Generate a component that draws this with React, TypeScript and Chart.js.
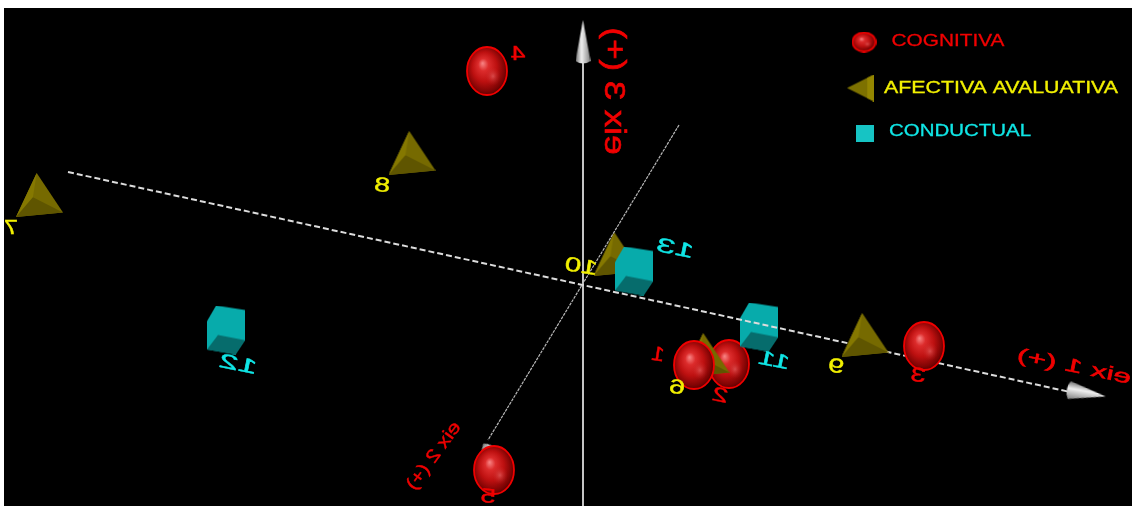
import React, { useEffect, useRef } from "react";
import { Chart, registerables } from "chart.js";

Chart.register(...registerables);

const xAxisX = [-515, 487];
const xAxisY = [113, -107];
const yAxisX = [0, 0];
const yAxisY = [230, -221];
const zAxisX = [96, -95];
const zAxisY = [160, -155];

const cognitivaBackX = [146];
const cognitivaBackY = [-79];
const cognitivaX = [-96, 111, 341, -89];
const cognitivaY = [214, -80, -61, -185];

const afectivaBackX = [34];
const afectivaBackY = [31];
const afectivaX = [-543.5, -171, 123, 282];
const afectivaY = [90, 132, -70, -50];

const conductualX = [-357, 51, 176];
const conductualY = [-45, 14, -42];

const pointLabels = ["4", "8", "7", "10", "13", "12", "11", "1", "6", "2", "9", "3", "5"];
const pointLabelX = [-65, -201, -572, -2, 92, -345, 191, 75, 94, 137, 253, 335, -95];
const pointLabelY = [231, 99, 57, 18, 36, -80, -76, -70, -103, -111, -82, -91, -212];

const legendNames = ["COGNITIVA", "AFECTIVA AVALUATIVA", "CONDUCTUAL"];
const axisNames = ["eix 1 (+)", "eix 2 (+)", "eix 3 (+)"];

const RED = "#f00000";
const YELLOW = "#f2f000";
const CYAN = "#10e6e6";
const pointLabelColors = [RED, YELLOW, YELLOW, YELLOW, CYAN, CYAN, CYAN, RED, YELLOW, RED, YELLOW, RED, RED];
const pointLabelWidths = [15, 16, 14, 33, 38, 39, 32, 13, 16, 16, 16, 15, 15];
const pointLabelRotations = [0, 0.1, 0, 0.15, 0.2, 0.2, 0.2, 0.15, 0.1, 0.2, 0.1, 0.1, 0.1];

function sprite(w: number, h: number, draw: (c: CanvasRenderingContext2D) => void) {
  const cv = document.createElement("canvas");
  cv.width = w;
  cv.height = h;
  draw(cv.getContext("2d")!);
  return cv;
}

function poly(c: CanvasRenderingContext2D, w: number, h: number, pts: number[][], fill: string) {
  c.beginPath();
  pts.forEach((p, i) => (i ? c.lineTo(p[0] * w, p[1] * h) : c.moveTo(p[0] * w, p[1] * h)));
  c.closePath();
  c.fillStyle = fill;
  c.fill();
}

function sphereSprite(w: number, h: number) {
  return sprite(w, h, (c) => {
    const rx = w / 2 - 1;
    const ry = h / 2 - 1;
    c.save();
    c.translate(w / 2, h / 2);
    c.scale(rx, ry);
    c.beginPath();
    c.arc(0, 0, 1, 0, Math.PI * 2);
    c.save();
    c.clip();
    const g = c.createRadialGradient(-0.22, -0.32, 0.02, -0.05, -0.05, 1.1);
    g.addColorStop(0, "#f67f7f");
    g.addColorStop(0.22, "#dc2c2c");
    g.addColorStop(0.55, "#bd1010");
    g.addColorStop(0.85, "#800404");
    g.addColorStop(1, "#520000");
    c.fillStyle = g;
    c.fillRect(-1, -1, 2, 2);
    const g2 = c.createRadialGradient(0.3, 0.22, 0, 0.3, 0.22, 0.4);
    g2.addColorStop(0, "rgba(235,120,120,0.55)");
    g2.addColorStop(1, "rgba(200,30,30,0)");
    c.fillStyle = g2;
    c.fillRect(-1, -1, 2, 2);
    c.restore();
    c.restore();
    c.beginPath();
    c.ellipse(w / 2, h / 2, rx, ry, 0, 0, Math.PI * 2);
    c.lineWidth = 1.8;
    c.strokeStyle = "#f00000";
    c.stroke();
  });
}

function pyramidSprite(w: number, h: number) {
  return sprite(w, h, (c) => {
    poly(c, w, h, [[0.44, 0], [0, 1], [1, 0.9]], "#766a00");
    poly(c, w, h, [[0.44, 0], [0, 1], [0.36, 0.55]], "#857800");
    poly(c, w, h, [[0, 1], [0.36, 0.55], [1, 0.9]], "#5f5500");
  });
}

function cubeSprite(w: number, h: number) {
  return sprite(w, h, (c) => {
    poly(c, w, h, [[0.24, 0], [1, 0.09], [1, 0.71], [0.75, 1], [0, 0.9], [0, 0.32]], "#07abab");
    poly(c, w, h, [[0, 0.9], [0.29, 0.6], [1, 0.71], [0.75, 1]], "#066c6c");
  });
}

function coneSprite(w: number, h: number) {
  return sprite(w, h, (c) => {
    const g = c.createLinearGradient(0, 0, w, 0);
    g.addColorStop(0, "#6e6e6e");
    g.addColorStop(0.4, "#f0f0f0");
    g.addColorStop(1, "#808080");
    c.beginPath();
    c.moveTo(w / 2, 0);
    c.lineTo(w, h - 3);
    c.quadraticCurveTo(w / 2, h + 2, 0, h - 3);
    c.closePath();
    c.fillStyle = g;
    c.fill();
  });
}

function legendPyramidSprite(w: number, h: number) {
  return sprite(w, h, (c) => {
    poly(c, w, h, [[0, 0.5], [1, 0], [1, 1]], "#7d7100");
    poly(c, w, h, [[0.75, 0.12], [1, 0], [1, 1], [0.75, 0.88]], "#948600");
  });
}

function text(
  c: CanvasRenderingContext2D,
  str: string,
  x: number,
  y: number,
  font: string,
  color: string,
  width: number,
  rotation: number,
  mirror: boolean,
  stroke = 0.4,
) {
  c.save();
  c.translate(x, y);
  c.rotate(rotation);
  c.font = font;
  const k = width / c.measureText(str).width;
  c.scale(mirror ? -k : k, 1);
  c.textAlign = "center";
  c.textBaseline = "middle";
  c.fillStyle = color;
  c.strokeStyle = color;
  c.lineWidth = stroke;
  c.fillText(str, 0, 0);
  c.strokeText(str, 0, 0);
  c.restore();
}

const FAMILY = '"Liberation Sans", Arial, sans-serif';

const annotations = {
  id: "annotations",
  beforeDatasetsDraw(chart: any) {
    const { ctx, chartArea: a } = chart;
    ctx.save();
    ctx.fillStyle = "#000";
    ctx.fillRect(a.left, a.top, a.right - a.left, a.bottom - a.top);
    ctx.restore();
  },
  afterDatasetsDraw(chart: any) {
    const { ctx, scales } = chart;
    const X = (v: number) => scales.x.getPixelForValue(v);
    const Y = (v: number) => scales.y.getPixelForValue(v);
    pointLabels.forEach((s, i) => {
      text(ctx, s, X(pointLabelX[i]), Y(pointLabelY[i]), `20px ${FAMILY}`, pointLabelColors[i], pointLabelWidths[i], pointLabelRotations[i], true, 0.4);
    });
    text(ctx, axisNames[0], X(491), Y(-82), `19px ${FAMILY}`, RED, 116, 0.2, true, 0.5);
    text(ctx, axisNames[1], X(-149), Y(-171), `18px ${FAMILY}`, RED, 80, -0.94, true, 0.4);
    text(ctx, axisNames[2], X(30), Y(194), `29px ${FAMILY}`, RED, 127, Math.PI / 2, true, 0.6);
    text(ctx, legendNames[0], X(365), Y(244), `16.5px ${FAMILY}`, RED, 113, 0, false, 0.3);
    text(ctx, legendNames[1], X(418), Y(196), `16px ${FAMILY}`, YELLOW, 234, 0, false, 0.3);
    text(ctx, legendNames[2], X(377), Y(154), `16.5px ${FAMILY}`, CYAN, 142, 0, false, 0.3);
  },
};

const pts = (xs: number[], ys: number[]) => xs.map((x, i) => ({ x, y: ys[i] }));

export default function App() {
  const ref = useRef<HTMLCanvasElement>(null);
  useEffect(() => {
    const sphere = sphereSprite(42, 50);
    const pyramid = pyramidSprite(47, 44);
    const cube = cubeSprite(38, 49);
    const marks = (name: string, xs: number[], ys: number[], style: any, order: number) => ({
      label: name,
      data: pts(xs, ys),
      pointStyle: style,
      order,
      showLine: false,
    });
    const line = (name: string, xs: number[], ys: number[], color: string, width: number, dash: number[], order: number) => ({
      label: name,
      data: pts(xs, ys),
      showLine: true,
      borderColor: color,
      borderWidth: width,
      borderDash: dash,
      pointRadius: 0,
      order,
    });
    const cones = (xs: number[], ys: number[], w: number, h: number, rot: number, order: number) => ({
      label: "cone",
      data: pts(xs, ys),
      pointStyle: coneSprite(w, h),
      pointRotation: rot,
      showLine: false,
      order,
    });
    const chart = new Chart(ref.current!, {
      type: "scatter",
      data: {
        datasets: [
          line("Eix 3", yAxisX, yAxisY, "#c4c4c4", 2, [], 20),
          cones([0], [243], 15, 44, 0, 19),
          cones([503], [-108], 18, 40, 100, 19),
          cones([-99], [-173], 16, 30, 211, 19),
          marks("Afectiva fons", afectivaBackX, afectivaBackY, pyramid, 18),
          line("Eix 2", zAxisX, zAxisY, "#b8b8b8", 1.2, [3, 1], 17),
          marks("Cognitiva fons", cognitivaBackX, cognitivaBackY, sphere, 16),
          marks("Conductual", conductualX, conductualY, cube, 15),
          line("Eix 1", xAxisX, xAxisY, "#dcdcdc", 2, [6, 3], 14),
          marks("Afectiva", afectivaX, afectivaY, pyramid, 13),
          marks("Cognitiva", cognitivaX, cognitivaY, sphere, 12),
          marks("Legend Cognitiva", [281], [243], sphereSprite(25, 21), 11),
          marks("Legend Afectiva", [277.5], [197], legendPyramidSprite(27, 27), 11),
          marks("Legend Conductual", [282], [152], sprite(18, 17, (c) => {
            c.fillStyle = "#16c4c4";
            c.fillRect(0, 0, 18, 17);
          }), 11),
        ] as any,
      },
      options: {
        responsive: false,
        animation: false,
        layout: { autoPadding: false, padding: { left: 4, top: 8, right: 0, bottom: 0 } },
        plugins: { legend: { display: false }, tooltip: { enabled: false } },
        scales: {
          x: { type: "linear", display: false, min: -579, max: 549 },
          y: { type: "linear", display: false, min: -221, max: 277 },
        },
      },
      plugins: [annotations],
    });
    return () => chart.destroy();
  }, []);
  return (
    <div style={{ position: "fixed", left: 0, top: 0, width: 1132, height: 506, overflow: "hidden", background: "#fff" }}>
      <canvas ref={ref} width={1132} height={506} style={{ display: "block", filter: "blur(0.7px)" }} />
    </div>
  );
}
